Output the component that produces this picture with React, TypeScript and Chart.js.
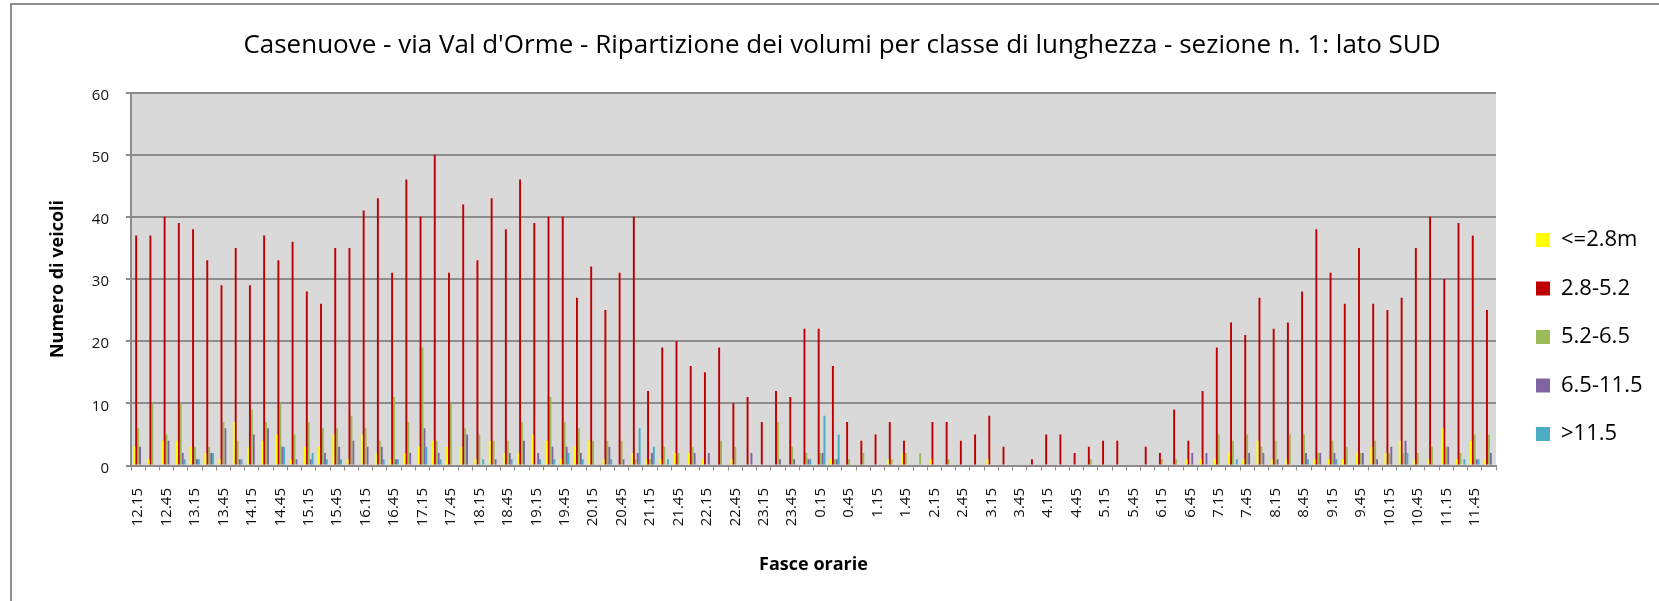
import React, { useEffect, useRef } from 'react';
import { Chart, registerables } from 'chart.js';

Chart.register(...registerables);

const CATEGORIES = [
  '12.15', '12.30', '12.45', '13.00', '13.15', '13.30', '13.45', '14.00', '14.15', '14.30', '14.45', '15.00',
  '15.15', '15.30', '15.45', '16.00', '16.15', '16.30', '16.45', '17.00', '17.15', '17.30', '17.45', '18.00',
  '18.15', '18.30', '18.45', '19.00', '19.15', '19.30', '19.45', '20.00', '20.15', '20.30', '20.45', '21.00',
  '21.15', '21.30', '21.45', '22.00', '22.15', '22.30', '22.45', '23.00', '23.15', '23.30', '23.45', '0.00',
  '0.15', '0.30', '0.45', '1.00', '1.15', '1.30', '1.45', '2.00', '2.15', '2.30', '2.45', '3.00',
  '3.15', '3.30', '3.45', '4.00', '4.15', '4.30', '4.45', '5.00', '5.15', '5.30', '5.45', '6.00',
  '6.15', '6.30', '6.45', '7.00', '7.15', '7.30', '7.45', '8.00', '8.15', '8.30', '8.45', '9.00',
  '9.15', '9.30', '9.45', '10.00', '10.15', '10.30', '10.45', '11.00', '11.15', '11.30', '11.45', '12.00',
];

const SERIES_NAMES = ['<=2.8m', '2.8-5.2', '5.2-6.5', '6.5-11.5', '>11.5'];
const SERIES_COLORS = ['#FFFF00', '#C00000', '#9BBB59', '#8064A2', '#4BACC6'];

const LEN_UP_TO_2_8 = [
  3, 1, 4, 4, 3, 2, 1, 7, 3, 4, 5, 1, 3, 3, 5, 1,
  5, 2, 1, 2, 3, 4, 3, 3, 1, 4, 2, 2, 5, 4, 1, 3,
  4, 1, 0, 2, 1, 1, 2, 2, 1, 0, 1, 0, 0, 0, 0, 0,
  0, 1, 0, 0, 0, 1, 2, 0, 1, 0, 0, 0, 1, 0, 0, 0,
  0, 0, 0, 0, 0, 0, 0, 0, 0, 0, 1, 1, 1, 2, 1, 4,
  1, 1, 0, 1, 1, 1, 2, 3, 2, 4, 1, 1, 6, 1, 4, 1,
];

const LEN_2_8_TO_5_2 = [
  37, 37, 40, 39, 38, 33, 29, 35, 29, 37, 33, 36, 28, 26, 35, 35,
  41, 43, 31, 46, 40, 50, 31, 42, 33, 43, 38, 46, 39, 40, 40, 27,
  32, 25, 31, 40, 12, 19, 20, 16, 15, 19, 10, 11, 7, 12, 11, 22,
  22, 16, 7, 4, 5, 7, 4, 0, 7, 7, 4, 5, 8, 3, 0, 1,
  5, 5, 2, 3, 4, 4, 0, 3, 2, 9, 4, 12, 19, 23, 21, 27,
  22, 23, 28, 38, 31, 26, 35, 26, 25, 27, 35, 40, 30, 39, 37, 25,
];

const LEN_5_2_TO_6_5 = [
  6, 10, 5, 10, 3, 3, 7, 4, 9, 7, 10, 5, 7, 6, 6, 8,
  6, 4, 11, 7, 19, 4, 10, 6, 5, 4, 4, 7, 0, 11, 7, 6,
  4, 4, 4, 1, 1, 3, 2, 3, 0, 4, 3, 0, 0, 7, 3, 2,
  2, 1, 1, 2, 0, 1, 2, 2, 0, 1, 0, 0, 0, 0, 0, 0,
  0, 0, 0, 1, 0, 0, 0, 0, 1, 1, 0, 0, 5, 4, 5, 3,
  4, 5, 5, 2, 4, 3, 2, 4, 2, 2, 2, 3, 3, 2, 5, 5,
];

const LEN_6_5_TO_11_5 = [
  3, 0, 4, 2, 1, 2, 6, 1, 5, 6, 3, 1, 1, 2, 3, 4,
  3, 3, 1, 2, 6, 2, 0, 5, 0, 1, 2, 4, 2, 3, 3, 2,
  0, 3, 1, 2, 2, 0, 0, 2, 2, 0, 0, 2, 0, 1, 1, 1,
  2, 1, 0, 0, 0, 0, 0, 0, 0, 0, 0, 0, 0, 0, 0, 0,
  0, 0, 0, 0, 0, 0, 0, 0, 0, 0, 2, 2, 0, 0, 2, 2,
  1, 0, 2, 2, 2, 0, 2, 1, 3, 4, 0, 0, 3, 0, 1, 2,
];

const LEN_OVER_11_5 = [
  0, 0, 0, 1, 1, 2, 0, 1, 0, 0, 3, 0, 2, 1, 1, 0,
  0, 1, 1, 0, 3, 1, 0, 0, 1, 0, 1, 0, 1, 1, 2, 1,
  0, 1, 0, 6, 3, 1, 0, 0, 0, 0, 0, 0, 0, 0, 0, 1,
  8, 5, 0, 0, 0, 0, 0, 0, 0, 0, 0, 0, 0, 0, 0, 0,
  0, 0, 0, 0, 0, 0, 0, 0, 0, 0, 0, 0, 0, 1, 0, 0,
  0, 0, 1, 0, 1, 0, 0, 0, 0, 2, 0, 0, 0, 1, 1, 0,
];

const SERIES_VALUES = [LEN_UP_TO_2_8, LEN_2_8_TO_5_2, LEN_5_2_TO_6_5, LEN_6_5_TO_11_5, LEN_OVER_11_5];

const Y_MIN = 0;
const Y_MAX = 60;
const Y_STEP = 10;

const TITLE = "Casenuove - via Val d'Orme - Ripartizione dei volumi per classe di lunghezza - sezione n. 1: lato SUD";
const Y_TITLE = 'Numero di veicoli';
const X_TITLE = 'Fasce orarie';

const W = 1659;
const H = 601;
const FONT = "'Open Sans', 'Liberation Sans', sans-serif";
const GRID = '#8c8c8c';

const LEGEND_BOX_X = 1536;
const LEGEND_FIRST_CENTER = 240;
const LEGEND_FONT = 22;
const LEGEND_PAD = 26.5;

const backgroundPlugin = {
  id: 'plotBackground',
  beforeDraw(chart: any) {
    const { ctx, chartArea: a } = chart;
    ctx.save();
    ctx.fillStyle = '#D9D9D9';
    ctx.fillRect(a.left, a.top, a.right - a.left, a.bottom - a.top);
    ctx.strokeStyle = '#8e8e8e';
    ctx.lineWidth = 2;
    ctx.beginPath();
    ctx.moveTo(11, H);
    ctx.lineTo(11, 4);
    ctx.lineTo(W, 4);
    ctx.stroke();
    ctx.restore();
  },
};

const legendPlacePlugin = {
  id: 'legendPlace',
  afterLayout(chart: any) {
    const lg = chart.legend;
    if (!lg) return;
    lg.left = LEGEND_BOX_X - LEGEND_PAD;
    lg.right = W;
    lg.width = lg.right - lg.left;
    lg.top = LEGEND_FIRST_CENTER - LEGEND_FONT / 2 - LEGEND_PAD;
    lg.bottom = H;
    lg.height = lg.bottom - lg.top;
  },
};

export default function App() {
  const canvasRef = useRef<HTMLCanvasElement>(null);

  useEffect(() => {
    document.body.style.margin = '0';
    const canvas = canvasRef.current;
    if (!canvas) return;

    const datasets = SERIES_NAMES.map((name, i) => ({
      label: name,
      data: SERIES_VALUES[i],
      backgroundColor: SERIES_COLORS[i],
      borderWidth: 0,
      categoryPercentage: 0.68,
      barPercentage: 1.0,
    }));

    const chart = new Chart(canvas, {
      type: 'bar',
      data: { labels: CATEGORIES, datasets },
      options: {
        responsive: false,
        animation: false,
        devicePixelRatio: 1,
        layout: { padding: { left: 25, right: 0, top: 0, bottom: 0 } },
        plugins: {
          title: {
            display: true,
            text: TITLE,
            color: '#000',
            font: { family: FONT, size: 26, weight: 'normal' },
            padding: { top: 30, bottom: 31.3 },
          },
          legend: {
            display: true,
            position: 'chartArea',
            align: 'start',
            labels: {
              boxWidth: 14,
              boxHeight: 14,
              padding: LEGEND_PAD,
              color: '#000',
              font: { family: FONT, size: LEGEND_FONT },
            },
          },
          tooltip: { enabled: false },
        },
        scales: {
          x: {
            ticks: {
              autoSkip: false,
              maxRotation: 90,
              minRotation: 90,
              padding: 17.5,
              color: '#111',
              font: { family: FONT, size: 15 },
              callback: (_v: any, index: number) => (index % 2 === 0 ? CATEGORIES[index] : ''),
            },
            grid: {
              display: true,
              drawOnChartArea: false,
              drawTicks: true,
              tickLength: 5,
              color: GRID,
              lineWidth: 1,
              offset: true,
            },
            border: { display: true, color: GRID, width: 2 },
            title: {
              display: true,
              text: X_TITLE,
              color: '#000',
              font: { family: FONT, size: 18, weight: 'bold' },
              padding: { top: 0, bottom: 25.7 },
            },
            afterFit: (s: any) => {
              s.height = 135.5;
            },
          },
          y: {
            min: Y_MIN,
            max: Y_MAX,
            ticks: {
              stepSize: Y_STEP,
              padding: 17,
              labelOffset: 3,
              color: '#111',
              font: { family: FONT, size: 15 },
            },
            grid: { color: GRID, lineWidth: 2, tickLength: 5, drawTicks: true },
            border: { display: true, color: GRID, width: 2 },
            title: {
              display: true,
              text: Y_TITLE,
              color: '#000',
              font: { family: FONT, size: 18, weight: 'bold' },
              padding: { top: 22.5, bottom: 0 },
            },
            afterFit: (s: any) => {
              s.width = 106;
            },
          },
          rightSpace: {
            type: 'linear',
            position: 'right',
            display: true,
            ticks: { display: false },
            grid: { display: false, drawTicks: false },
            border: { display: false },
            afterFit: (s: any) => {
              s.width = 163;
            },
          },
        },
      },
      plugins: [backgroundPlugin, legendPlacePlugin],
    } as any);

    return () => chart.destroy();
  }, []);

  return (
    <div style={{ position: 'absolute', left: 0, top: 0, width: W, height: H, background: '#fff' }}>
      <canvas ref={canvasRef} width={W} height={H} style={{ display: 'block', width: W, height: H }} />
    </div>
  );
}
